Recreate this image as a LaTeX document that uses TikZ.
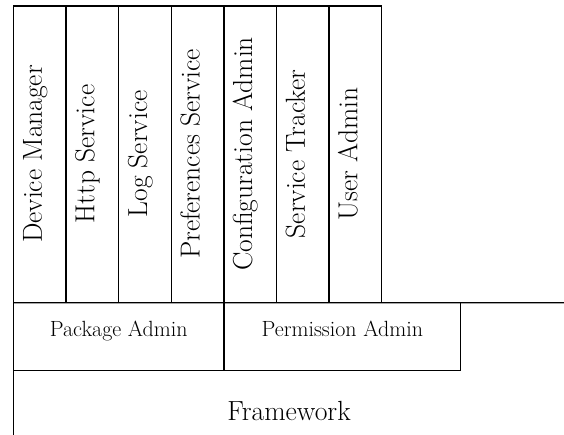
\documentclass[tikz,border=0pt]{standalone}
\usepackage{fontspec}
\tikzset{
  lw/.style={line width=1.4pt},
  colbox/.style={draw, lw, anchor=north west, minimum width=52.6pt, minimum height=296.7pt, inner sep=0pt, outer sep=0pt},
  coltext/.style={rotate=90, anchor=base, inner sep=0pt, font=\fontsize{27.5}{30}\selectfont},
  midbox/.style={draw, lw, anchor=north west, minimum height=68pt, inner sep=0pt, outer sep=0pt},
  smalltext/.style={anchor=base, inner sep=0pt, font=\fontsize{22}{26}\selectfont},
  bigtext/.style={anchor=base, inner sep=0pt, font=\fontsize{27.7}{32}\selectfont},
}
\begin{document}
\begin{tikzpicture}
\useasboundingbox (0pt,0pt) rectangle (564pt,-434pt);
\foreach \i/\t in {0/Device Manager,1/Http Service,2/Log Service,3/Preferences Service,4/Configuration Admin,5/Service Tracker,6/User Admin}{
  \node[colbox] (c\i) at ({13.5pt+52.6pt*\i},-6pt) {};
  \node[coltext] (t\i) at ({13.5pt+52.6pt*\i+28.3pt},-154pt) {\t};
}
\node[midbox, minimum width=210.4pt] (pkg) at (13.5pt,-302.7pt) {};
\node[midbox, minimum width=236.8pt] (perm) at (223.9pt,-302.7pt) {};
\node[smalltext] (pkgt) at (118.7pt,-336pt) {Package Admin};
\node[smalltext] (permt) at (342.3pt,-336pt) {Permission Admin};
\coordinate (rend) at (564pt,-302.7pt);
\draw[lw] (c0.south west) -- (rend);
\coordinate (fwend) at (13.5pt,-436pt);
\draw[lw] (pkg.south west) -- (fwend);
\node[bigtext] (fw) at (289pt,-420pt) {Framework};
\end{tikzpicture}
\end{document}
